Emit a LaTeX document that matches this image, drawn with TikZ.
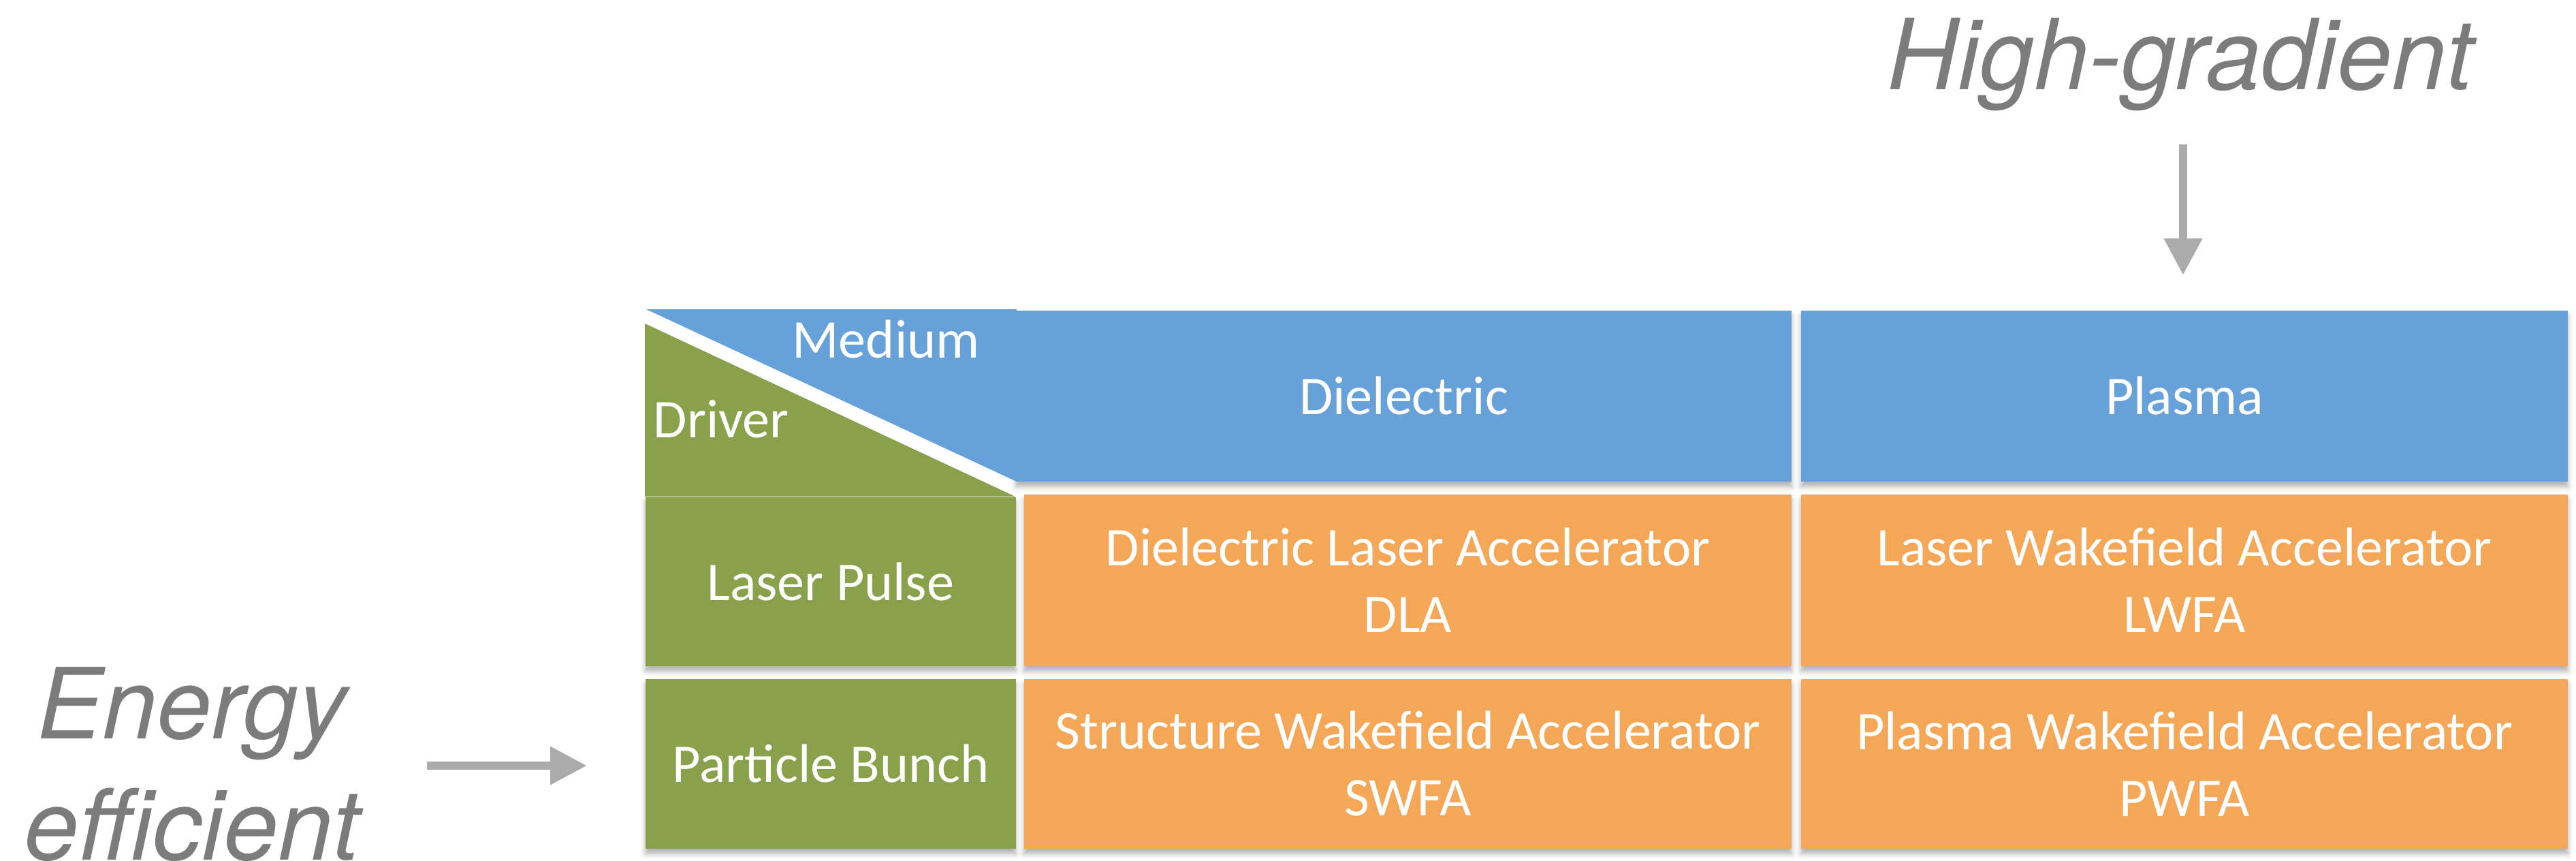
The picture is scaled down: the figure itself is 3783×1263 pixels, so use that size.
\documentclass[tikz,border=0pt]{standalone}
\usepackage{fontspec}
\setmainfont{Carlito}
\newfontfamily\helvfont{TeX Gyre Heros}
\usetikzlibrary{arrows.meta,shadows.blur}
\definecolor{hdrblue}{RGB}{103,161,218}
\definecolor{drvgreen}{RGB}{136,161,74}
\definecolor{celorange}{RGB}{244,167,87}
\definecolor{labgray}{RGB}{124,124,124}
\definecolor{arrgray}{RGB}{171,171,171}
\begin{document}
\begin{tikzpicture}[x=0.01cm,y=-0.01cm,
  cellshadow/.style={blur shadow={shadow xshift=0pt,shadow yshift=-2.2pt,shadow blur radius=2pt,shadow opacity=30}},
  cell/.style={anchor=north west,inner sep=0pt,text=white,align=center,
    font=\fontsize{22.8}{27.9}\selectfont,cellshadow},
  hdr/.style={cell,fill=hdrblue,minimum height=2.51cm},
  drv/.style={cell,fill=drvgreen,minimum width=5.44cm},
  acc/.style={cell,fill=celorange},
  wtext/.style={inner sep=0pt,text=white,font=\fontsize{22.8}{27.9}\selectfont},
  glabel/.style={inner sep=0pt,text=labgray,align=center,
    font=\helvfont\itshape\fontsize{41}{50.4}\selectfont},
  garrow/.style={draw=arrgray,line width=3.5pt,
    -{Triangle[length=15.3pt,width=15.1pt]}}
]
\useasboundingbox (0,0) rectangle (3783,1263);

% header row
\node[hdr,minimum width=11.39cm] (diel) at (1491,455) {Dielectric};
\node[hdr,minimum width=11.26cm] (plas) at (2644,455) {Plasma};
\fill[hdrblue] (949,454) -- (1493,454) -- (1493,707) -- cycle;
\node[wtext,anchor=base] (medium) at (1301,525) {Medium};

% driver column
\node[drv,minimum height=2.48cm] (laser) at (947,729) {Laser Pulse};
\node[drv,minimum height=2.49cm] (bunch) at (947,996) {Particle Bunch};
\fill[drvgreen] (947,475) -- (1491,729) -- (947,729) -- cycle;
\node[wtext,anchor=base west] (driver) at (959,642) {Driver};

% accelerator cells
\node[acc,minimum width=11.27cm,minimum height=2.52cm] (dla) at (1503,725)
  {Dielectric Laser Accelerator\\DLA};
\node[acc,minimum width=11.26cm,minimum height=2.52cm] (lwfa) at (2644,725)
  {Laser Wakefield Accelerator\\LWFA};
\node[acc,minimum width=11.27cm,minimum height=2.49cm] (swfa) at (1503,996)
  {Structure Wakefield Accelerator\\SWFA};
\node[acc,minimum width=11.26cm,minimum height=2.49cm] (pwfa) at (2644,996)
  {Plasma Wakefield Accelerator\\PWFA};

% side labels and arrows
\node[glabel,anchor=base] (hg) at (3202,131) {High-gradient};
\node[glabel,anchor=north] (ee) at (282,979) {Energy\\efficient};
\coordinate (hgs) at (3206,212);
\coordinate (hge) at (3206,404);
\coordinate (ees) at (627,1124);
\coordinate (eee) at (862,1124);
\draw[garrow] (hgs) -- (hge);
\draw[garrow] (ees) -- (eee);
\end{tikzpicture}
\end{document}
